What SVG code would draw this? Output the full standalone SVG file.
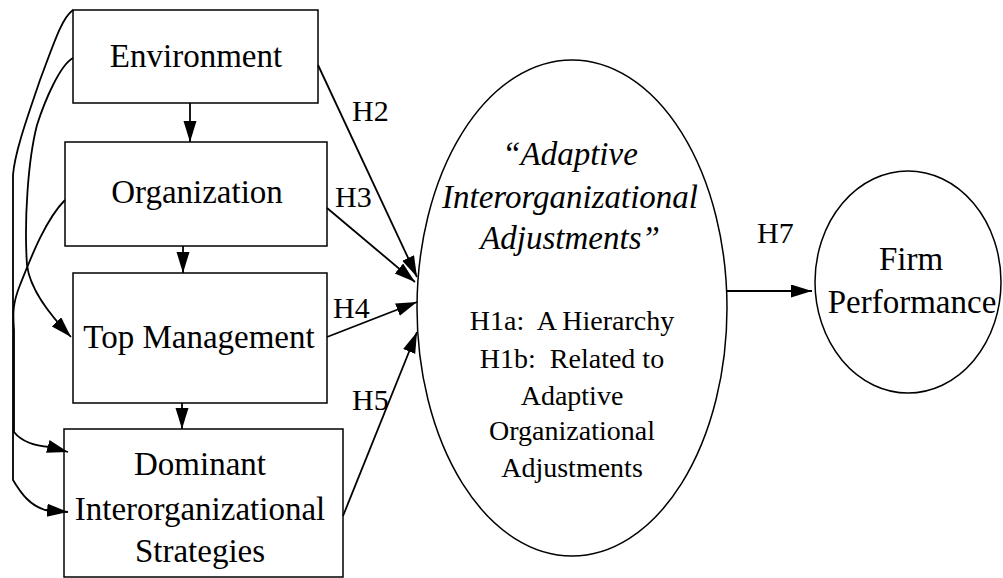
<svg xmlns="http://www.w3.org/2000/svg" width="1003" height="578" viewBox="0 0 1003 578">
<style>
.box{fill:#fff;stroke:#000;stroke-width:1.5}
.ell{fill:#fff;stroke:#000;stroke-width:1.5}
.t{font-family:"Liberation Serif","Times New Roman",serif;font-size:33px;fill:#000;text-anchor:middle}
.ti{font-family:"Liberation Serif","Times New Roman",serif;font-size:33px;font-style:italic;fill:#000;text-anchor:middle}
.ts{font-family:"Liberation Serif","Times New Roman",serif;font-size:28px;fill:#000;text-anchor:middle}
.h{font-family:"Liberation Serif","Times New Roman",serif;font-size:30px;fill:#000}
.c{fill:none;stroke:#000;stroke-width:1.8;marker-end:url(#ah)}
</style>
<defs>
<marker id="ah" markerUnits="userSpaceOnUse" markerWidth="22" markerHeight="14" refX="21" refY="6.5" orient="auto">
<path d="M0,0 L21,6.5 L0,13 z" fill="#000"/>
</marker>
</defs>
<rect width="1003" height="578" fill="#fff"/>
<g id="environment">
<rect class="box" x="73" y="10" width="245" height="93"/>
<text class="t" x="196" y="67">Environment</text>
</g>
<g id="organization">
<rect class="box" x="65" y="142" width="262" height="104"/>
<text class="t" x="197" y="203">Organization</text>
</g>
<g id="top-management">
<rect class="box" x="73" y="273" width="254" height="130"/>
<text class="t" x="199" y="348">Top Management</text>
</g>
<g id="dominant-strategies">
<rect class="box" x="64" y="429" width="279" height="148"/>
<text class="t" x="200" y="475">Dominant</text>
<text class="t" x="200" y="520">Interorganizational</text>
<text class="t" x="200" y="562">Strategies</text>
</g>
<g id="adjustments">
<ellipse class="ell" cx="572" cy="308" rx="155" ry="248"/>
<text class="ti" x="570" y="165">“Adaptive</text>
<text class="ti" x="570" y="208">Interorganizational</text>
<text class="ti" x="570" y="249">Adjustments”</text>
<text class="ts" x="572" y="330" xml:space="preserve">H1a:  A Hierarchy</text>
<text class="ts" x="572" y="368" xml:space="preserve">H1b:  Related to</text>
<text class="ts" x="572" y="405">Adaptive</text>
<text class="ts" x="572" y="440">Organizational</text>
<text class="ts" x="572" y="477">Adjustments</text>
</g>
<g id="firm-performance">
<ellipse class="ell" cx="908" cy="282" rx="93" ry="111"/>
<text class="t" x="911" y="270">Firm</text>
<text class="t" x="912" y="313">Performance</text>
</g>
<g id="connectors">
<path class="c" d="M190,103 L190,142"/>
<path class="c" d="M183,246 L183,273"/>
<path class="c" d="M182,403 L182,429"/>
<path class="c" d="M318,65 L417,277"/>
<path class="c" d="M327,208 L415,282"/>
<path class="c" d="M327,337 L417,302"/>
<path class="c" d="M343,516 L417,332"/>
<path class="c" d="M727,291 L812,291"/>
<path class="c" d="M73,10 C62,18 55,40 40,80 C30,110 15,150 13,175 L13,480 C22,495 30,505 45,510 L68,512"/>
<path class="c" d="M73,58 C60,65 45,100 37,125 C28,160 24,220 27,265 C30,290 50,315 71,337"/>
<path class="c" d="M65,200 C45,220 30,260 20,285 C12,305 13,315 14,330 L14,432 C22,442 35,446 50,447 L68,452"/>
<text class="h" x="352" y="121">H2</text>
<text class="h" x="335" y="207">H3</text>
<text class="h" x="333" y="318">H4</text>
<text class="h" x="352" y="410">H5</text>
<text class="h" x="757" y="243">H7</text>
</g>
</svg>
